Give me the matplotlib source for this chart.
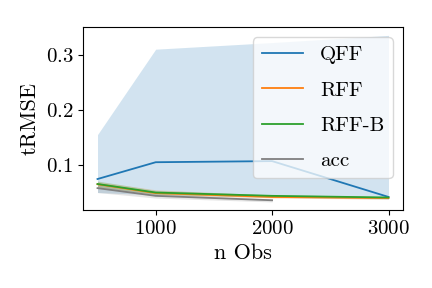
import numpy as np
import matplotlib
matplotlib.use("Agg")
import matplotlib.pyplot as plt

plt.rcParams['font.family'] = 'serif'
plt.rcParams['font.serif'] = ['cmr10']
plt.rcParams['mathtext.fontset'] = 'cm'
plt.rcParams['axes.formatter.use_mathtext'] = True

n_obs = [500, 1000, 2000, 3000]

# mean values and band (lower, upper)
qff = [0.0745, 0.105, 0.107, 0.042]
qff_lo = [0.050, 0.046, 0.041, 0.038]
qff_hi = [0.155, 0.310, 0.322, 0.335]

rff = [0.065, 0.049, 0.042, 0.040]
rff_lo = [0.058, 0.045, 0.040, 0.038]
rff_hi = [0.070, 0.055, 0.045, 0.042]

rffb = [0.0655, 0.050, 0.044, 0.041]
rffb_lo = [0.060, 0.047, 0.042, 0.039]
rffb_hi = [0.071, 0.054, 0.046, 0.043]

acc_obs = [500, 1000, 2000]
acc = [0.058, 0.044, 0.036]
acc_lo = [0.050, 0.040, 0.033]
acc_hi = [0.064, 0.048, 0.038]

fig, ax = plt.subplots(figsize=(4.32, 2.88), dpi=100)

series = [
    ("QFF", n_obs, qff, qff_lo, qff_hi, "tab:blue"),
    ("RFF", n_obs, rff, rff_lo, rff_hi, "tab:orange"),
    ("RFF-B", n_obs, rffb, rffb_lo, rffb_hi, "tab:green"),
    ("acc", acc_obs, acc, acc_lo, acc_hi, "tab:gray"),
]
for name, x, y, lo, hi, c in series:
    ax.fill_between(x, lo, hi, color=c, alpha=0.2, linewidth=0)
    ax.plot(x, y, color=c, label=name, linewidth=1.3)

ax.set_xlabel("n Obs", fontsize=16)
ax.set_ylabel("tRMSE", fontsize=16)
ax.set_xticks([1000, 2000, 3000])
ax.set_yticks([0.1, 0.2, 0.3])
ax.tick_params(labelsize=15)
ax.legend(loc="upper right", fontsize=15, framealpha=0.75, labelspacing=0.8)

fig.subplots_adjust(left=0.192, right=0.933, top=0.906, bottom=0.27)
fig.savefig("out.png", dpi=100)
